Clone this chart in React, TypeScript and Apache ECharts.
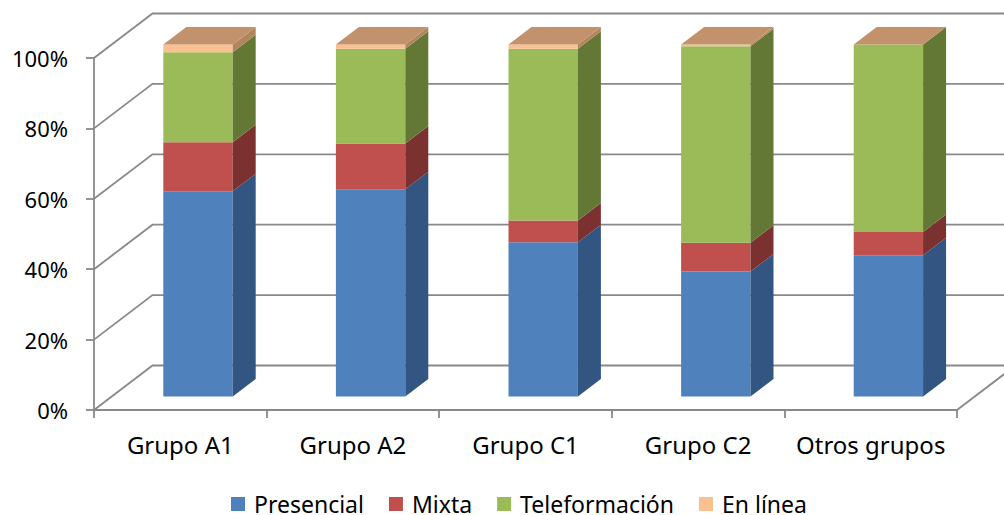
import React, { useEffect, useRef } from "react";
import * as echarts from "echarts";

const categories = ["Grupo A1", "Grupo A2", "Grupo C1", "Grupo C2", "Otros grupos"];
const seriesNames = ["Presencial", "Mixta", "Teleformación", "En línea"];
const presencial = [58.3, 58.9, 43.8, 35.5, 40.1];
const mixta = [13.9, 13.0, 6.2, 8.2, 6.6];
const teleformacion = [25.6, 26.9, 48.8, 55.8, 53.3];
const enLinea = [2.2, 1.2, 1.2, 0.5, 0.0];
const yTicks = [0, 20, 40, 60, 80, 100];

const frontColors = ["#4F81BD", "#C0504D", "#9BBB59", "#FAC090"];
const sideColors = ["#325581", "#7B3130", "#647836", "#B3855F"];
const topColor = "#C1926B";
const gridColor = "#898989";

// depth offsets (pixels)
const WALL_DX = 58.5;
const WALL_DY = -44.5;
const BAR_OX = 17.7;
const BAR_OY = -13.5;
const BAR_DX = 23;
const BAR_DY = -17.5;
const BAR_RATIO = 0.402;
const FONT = "'Noto Sans', 'Open Sans', sans-serif";

export default function App() {
  const ref = useRef<HTMLDivElement>(null);
  useEffect(() => {
    if (!ref.current) return;
    const chart = echarts.init(ref.current, null, { renderer: "svg" });
    const values = [presencial, mixta, teleformacion, enLinea];
    const cum = categories.map(() => 0);
    const stacked = values.map((arr) =>
      arr.map((v, i) => {
        const s = cum[i];
        cum[i] = s + v;
        return [i, s, s + v];
      })
    );

    const barSeries = stacked.map((data, k) => ({
      type: "custom",
      name: seriesNames[k],
      data,
      encode: { x: 0, y: [1, 2] },
      z: 10 + k,
      itemStyle: { color: frontColors[k] },
      renderItem: (params: any, api: any) => {
        const i = api.value(0);
        const s = api.value(1);
        const e = api.value(2);
        const p0 = api.coord([i, s]);
        const p1 = api.coord([i, e]);
        const bw = api.size([1, 0])[0] * BAR_RATIO;
        const cx = p0[0] + BAR_OX;
        const L = cx - bw / 2;
        const R = cx + bw / 2;
        const yb = p0[1] + BAR_OY;
        const yt = p1[1] + BAR_OY;
        const children: any[] = [];
        if (yb - yt > 0) {
          children.push({
            type: "rect",
            shape: { x: L, y: yt, width: bw, height: yb - yt },
            style: { fill: frontColors[k] },
          });
          children.push({
            type: "polygon",
            shape: {
              points: [
                [R, yt],
                [R, yb],
                [R + BAR_DX, yb + BAR_DY],
                [R + BAR_DX, yt + BAR_DY],
              ],
            },
            style: { fill: sideColors[k] },
          });
        }
        if (k === stacked.length - 1) {
          children.push({
            type: "polygon",
            shape: {
              points: [
                [L, yt],
                [R, yt],
                [R + BAR_DX, yt + BAR_DY],
                [L + BAR_DX, yt + BAR_DY],
              ],
            },
            style: { fill: topColor },
          });
        }
        return { type: "group", children };
      },
    }));

    const wallSeries = {
      type: "custom",
      name: "walls",
      data: [[0, 0]],
      z: 1,
      silent: true,
      renderItem: (params: any, api: any) => {
        const cs = params.coordSys;
        const x0 = cs.x;
        const x1 = cs.x + cs.width;
        const children: any[] = [];
        yTicks.forEach((v) => {
          const y = api.coord([0, v])[1];
          children.push({
            type: "polyline",
            shape: {
              points: [
                [x0, y],
                [x0 + WALL_DX, y + WALL_DY],
                [x1 + WALL_DX + 20, y + WALL_DY],
              ],
            },
            style: { stroke: gridColor, lineWidth: 1.8, fill: "none" },
          });
        });
        const y0 = api.coord([0, yTicks[0]])[1];
        children.push({
          type: "line",
          shape: { x1: x1, y1: y0, x2: x1 + WALL_DX, y2: y0 + WALL_DY },
          style: { stroke: gridColor, lineWidth: 1.8 },
        });
        return { type: "group", children };
      },
    };

    chart.setOption({
      animation: false,
      textStyle: { fontFamily: FONT },
      grid: { left: 94, top: 58, width: 863, height: 352, containLabel: false },
      legend: {
        data: seriesNames,
        left: 231,
        top: 492,
        icon: "rect",
        itemWidth: 14,
        itemHeight: 14,
        itemGap: 25,
        padding: 0,
        textStyle: { fontSize: 23, lineHeight: 24, color: "#000", fontFamily: FONT, padding: [0, 0, 0, 4] },
      },
      xAxis: {
        type: "category",
        data: categories,
        boundaryGap: true,
        axisLine: { show: true, lineStyle: { color: gridColor, width: 1.8 } },
        axisTick: { show: true, length: 8, lineStyle: { color: gridColor, width: 1.8 } },
        axisLabel: { fontSize: 24, color: "#000", margin: 22, interval: 0, fontFamily: FONT },
        splitLine: { show: false },
      },
      yAxis: {
        type: "value",
        min: 0,
        max: 100,
        interval: 20,
        axisLine: { show: true, lineStyle: { color: gridColor, width: 1.8 } },
        axisTick: { show: true, length: 8, lineStyle: { color: gridColor, width: 1.8 } },
        axisLabel: { fontSize: 22, color: "#000", margin: 26, formatter: "{value}%", fontFamily: FONT },
        splitLine: { show: false },
      },
      series: [wallSeries, ...barSeries],
    });
    return () => chart.dispose();
  }, []);
  return <div ref={ref} style={{ width: 1004, height: 515, position: "absolute", left: 0, top: 0 }} />;
}
